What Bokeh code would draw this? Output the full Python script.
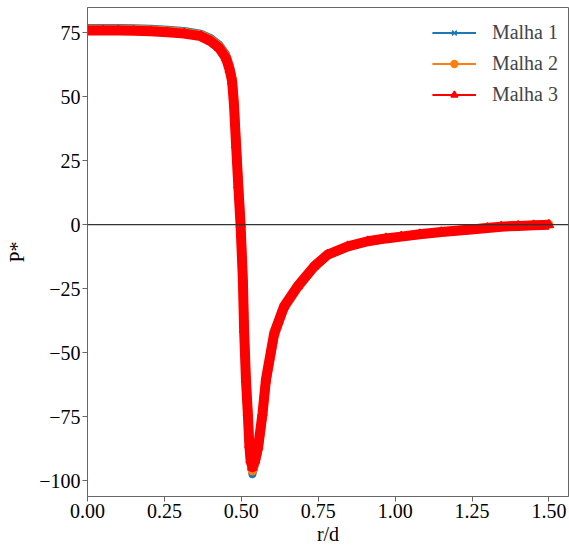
from bokeh.plotting import figure
from bokeh.models import Range1d, FixedTicker, Span, Legend, LegendItem, ColumnDataSource, NumeralTickFormatter
from bokeh.embed import file_html
from bokeh.resources import INLINE

# r/d positions
r_d = [0.000, 0.050, 0.100, 0.150, 0.205, 0.260, 0.314, 0.368, 0.401, 0.428, 0.450, 0.462,
       0.470, 0.476, 0.483, 0.490, 0.4975, 0.505, 0.509, 0.515, 0.521, 0.526, 0.530, 0.536,
       0.545, 0.555, 0.569, 0.580, 0.607, 0.639, 0.683, 0.737, 0.781, 0.846, 0.911, 0.970,
       1.020, 1.080, 1.150, 1.238, 1.300, 1.345, 1.400, 1.450, 1.500]

malha1 = [76.8, 76.8, 76.8, 76.7, 76.5, 76.1, 75.6, 74.6, 72.8, 70.3, 66.6, 62.3,
          58.0, 50.0, 34.0, 18.5, 2.5, -19.5, -39.0, -58.5, -72.0, -85.0, -92.5, -97.5,
          -93.5, -88.5, -75.5, -62.5, -44.0, -33.0, -25.0, -16.8, -12.0, -8.7, -6.6, -5.5,
          -4.7, -3.8, -2.9, -1.9, -1.2, -0.7, -0.4, -0.1, 0.2]
malha2 = [76.3, 76.3, 76.3, 76.2, 76.0, 75.6, 75.1, 74.1, 72.2, 69.6, 65.8, 61.4,
          57.0, 48.5, 32.5, 17.0, 1.2, -20.5, -40.0, -59.5, -72.8, -85.5, -92.2, -96.2,
          -92.8, -87.5, -74.5, -61.5, -43.1, -32.4, -24.5, -16.5, -11.8, -8.6, -6.5, -5.4,
          -4.7, -3.8, -2.9, -1.9, -1.2, -0.7, -0.4, -0.2, 0.1]
malha3 = [75.8, 75.8, 75.8, 75.7, 75.5, 75.1, 74.6, 73.6, 71.6, 69.0, 65.1, 60.5,
          56.0, 47.0, 31.0, 15.5, 0.0, -21.5, -41.0, -60.5, -73.6, -86.0, -92.0, -94.8,
          -92.0, -86.5, -73.6, -60.5, -42.3, -31.9, -24.1, -16.3, -11.7, -8.5, -6.5, -5.4,
          -4.7, -3.8, -2.9, -2.0, -1.3, -0.8, -0.5, -0.3, -0.1]

series_names = ["Malha 1", "Malha 2", "Malha 3"]
series_colors = ["#1f77b4", "#ff7f0e", "#ff0000"]
series_markers = ["x", "circle", "triangle"]

x_ticks = [0.0, 0.25, 0.5, 0.75, 1.0, 1.25, 1.5]
y_ticks = [-100, -75, -50, -25, 0, 25, 50, 75]
y_tick_labels = ["\u2212100", "\u221275", "\u221250", "\u221225", "0", "25", "50", "75"]

FONT = "Liberation Serif"
AX = "#666666"

p = figure(width=569, height=547, output_backend="svg", toolbar_location=None,
           x_range=Range1d(0, 1.5635), y_range=Range1d(-106.2, 84.8),
           min_border_left=87, min_border_right=1, min_border_top=7, min_border_bottom=44)
p.xgrid.visible = False
p.ygrid.visible = False
p.outline_line_color = AX
p.outline_line_width = 1

p.xaxis.ticker = FixedTicker(ticks=x_ticks)
p.xaxis.formatter = NumeralTickFormatter(format="0.00")
p.yaxis.ticker = FixedTicker(ticks=y_ticks)
p.yaxis.major_label_overrides = {t: l for t, l in zip(y_ticks, y_tick_labels)}
p.xaxis.axis_label = "r/d"
p.yaxis.axis_label = "P*"
for ax in (p.xaxis[0], p.yaxis[0]):
    ax.axis_line_color = AX
    ax.major_tick_line_color = AX
    ax.major_tick_out = 5
    ax.major_tick_in = 0
    ax.minor_tick_line_color = None
    ax.major_label_text_font = FONT
    ax.major_label_text_font_size = "20px"
    ax.major_label_text_color = "black"
    ax.major_label_standoff = 2
    ax.axis_label_text_font = FONT
    ax.axis_label_text_font_size = "20px"
    ax.axis_label_text_font_style = "normal"
    ax.axis_label_text_color = "black"
    ax.axis_label_standoff = 2
p.yaxis.axis_label_standoff = 8

band_widths = [8, 9, 10]
items = []
for name, ys, color, marker, bw in zip(series_names, [malha1, malha2, malha3],
                                        series_colors, series_markers, band_widths):
    src = ColumnDataSource(dict(x=r_d, y=ys))
    p.line("x", "y", source=src, line_color=color, line_width=bw, line_join="round")
    thin = p.line("x", "y", source=src, line_color=color, line_width=2)
    msize = 9 if marker == "triangle" else 7
    mk = p.scatter("x", "y", source=src, marker=marker, size=msize,
                   line_color=color, fill_color=color, line_width=1.5)
    items.append(LegendItem(label=name, renderers=[thin, mk]))

p.add_layout(Span(location=0, dimension="width", line_color="#333333", line_width=1.3))

legend = Legend(items=items, location="top_right", border_line_alpha=0,
                background_fill_alpha=0, label_text_font=FONT, label_text_font_size="20px",
                glyph_width=44, glyph_height=17, label_height=30, spacing=1,
                padding=10, margin=0, label_standoff=16)
p.add_layout(legend)

open("out.html", "w").write(file_html(p, INLINE))
